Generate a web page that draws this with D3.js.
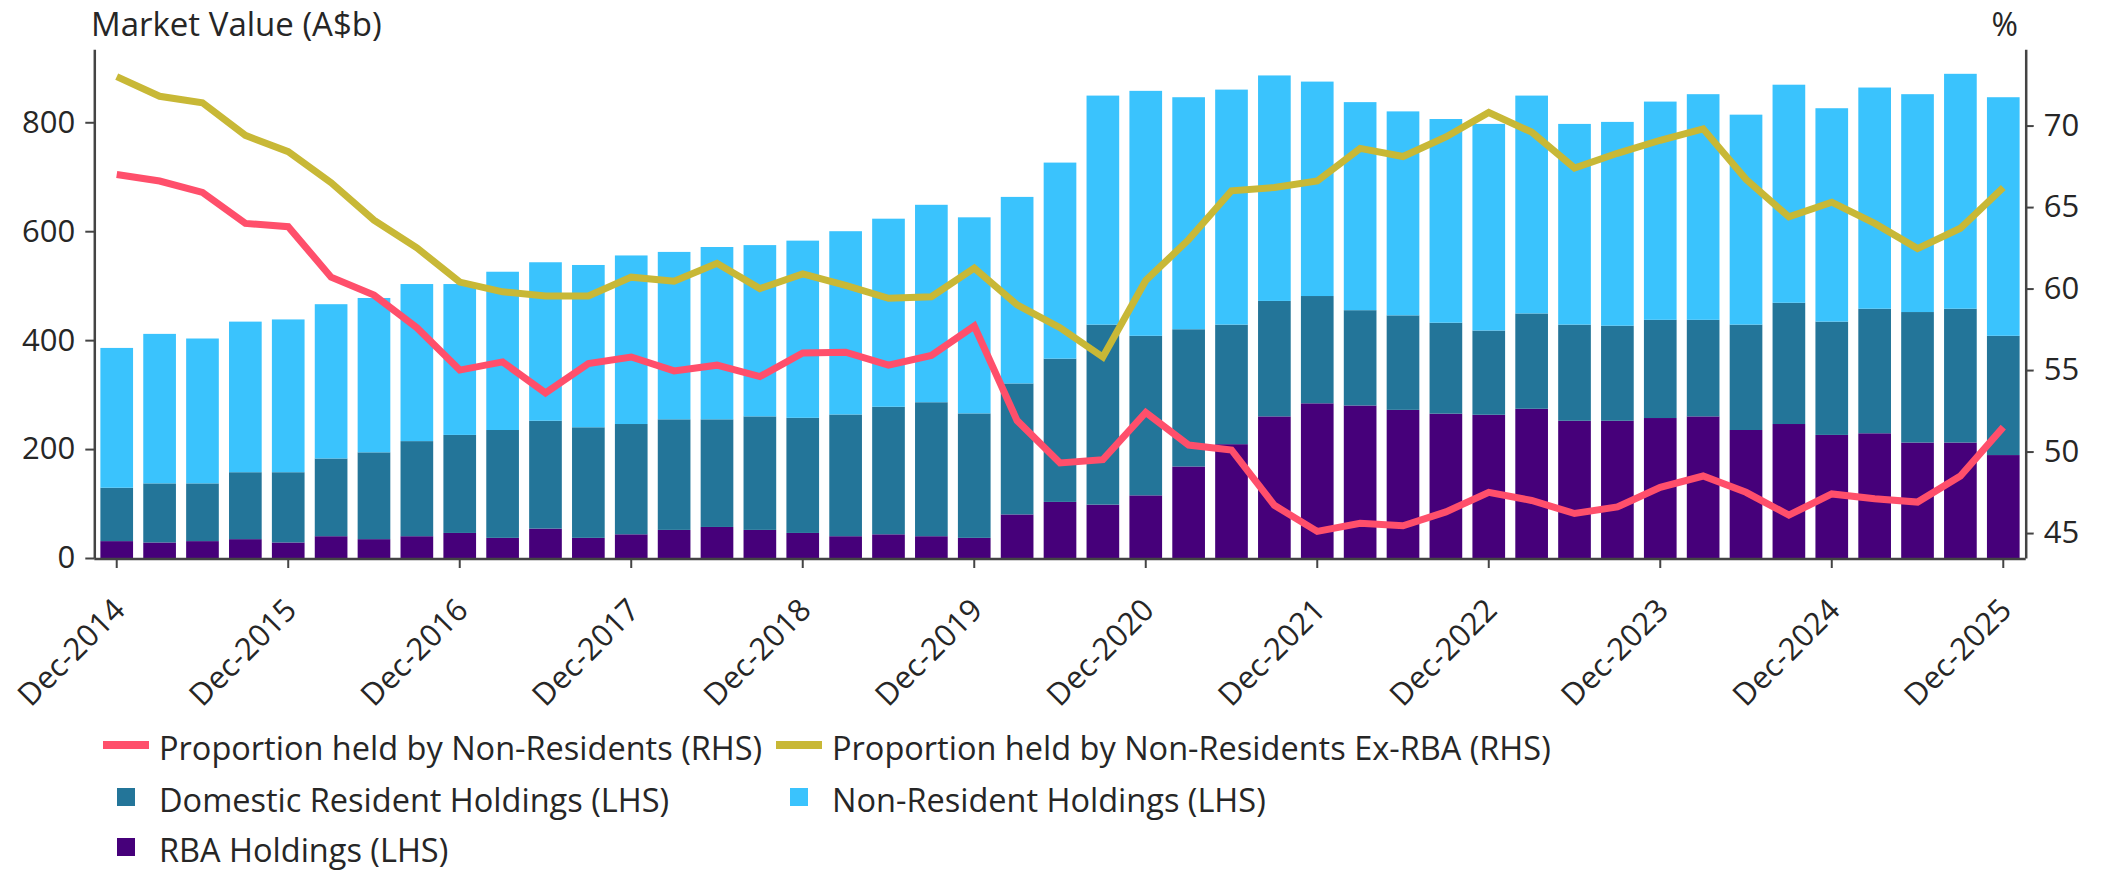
<!DOCTYPE html>
<html>
<head>
<meta charset="utf-8">
<script src="https://cdn.jsdelivr.net/npm/d3@7"></script>
<style>
    body { margin: 0; background: #ffffff; }
    text { font-family: "Open Sans", sans-serif; fill: #262626; }
</style>
</head>
<body>
<svg id="chart" width="2102" height="872"></svg>
<script>
let width = 2102, height = 872;

// quarterly categories
const quarters = [
    "Dec-2014", "Mar-2015", "Jun-2015", "Sep-2015",
    "Dec-2015", "Mar-2016", "Jun-2016", "Sep-2016",
    "Dec-2016", "Mar-2017", "Jun-2017", "Sep-2017",
    "Dec-2017", "Mar-2018", "Jun-2018", "Sep-2018",
    "Dec-2018", "Mar-2019", "Jun-2019", "Sep-2019",
    "Dec-2019", "Mar-2020", "Jun-2020", "Sep-2020",
    "Dec-2020", "Mar-2021", "Jun-2021", "Sep-2021",
    "Dec-2021", "Mar-2022", "Jun-2022", "Sep-2022",
    "Dec-2022", "Mar-2023", "Jun-2023", "Sep-2023",
    "Dec-2023", "Mar-2024", "Jun-2024", "Sep-2024",
    "Dec-2024", "Mar-2025", "Jun-2025", "Sep-2025",
    "Dec-2025"
]

// only the December quarters get a tick + label
const xTickLabels = ["Dec-2014", "Dec-2015", "Dec-2016", "Dec-2017", "Dec-2018", "Dec-2019",
    "Dec-2020", "Dec-2021", "Dec-2022", "Dec-2023", "Dec-2024", "Dec-2025"]

// A$b (LHS)
const rbaHoldings = [31, 28.5, 31, 34.6, 28.5, 40, 34.6, 40, 46, 37, 54, 37, 43.5, 51.6, 57, 51.6,
    46, 40, 43.5, 40, 37, 80, 103, 98, 115, 168, 209, 260, 284, 280, 272, 265, 263, 274,
    252, 252, 257, 260, 235, 246, 226, 229, 212, 212, 189]

const domesticHoldings = [98, 108.5, 106, 122.9, 129, 142.7, 159.4, 174.6, 180, 198, 198, 203, 202.5,
    203, 197.6, 208.4, 211.4, 223.5, 234.2, 246, 228.5, 240.5, 263, 330.5, 293, 252, 219.5, 212,
    197, 175, 173.5, 167, 154.6, 175, 176.5, 174.5, 180.3, 177.3, 193.5, 222.6, 208, 228.7, 239.6,
    245.7, 219]

const nonResidentHoldings = [256.7, 274.5, 266, 276.5, 280.5, 283.3, 283.4, 288.4, 277, 290.6, 291, 298,
    309.5, 307.4, 316.4, 314.5, 325.3, 336.5, 345.3, 362.5, 360, 342.5, 360, 420.5, 449.7, 426,
    431.5, 414, 393.7, 382, 374.5, 374, 379.4, 400, 368.5, 374.2, 400.7, 414.3, 385.5, 400.4,
    391.8, 406.1, 400, 431.3, 438]

// % (RHS)
const propNonRes = [67.0, 66.6, 65.9, 64.0, 63.8, 60.7, 59.6, 57.6, 55.0, 55.5, 53.6, 55.4, 55.8, 54.95,
    55.3, 54.6, 56.05, 56.1, 55.3, 55.9, 57.7, 51.9, 49.3, 49.5, 52.4, 50.4, 50.1, 46.7, 45.1,
    45.6, 45.45, 46.3, 47.5, 47.0, 46.2, 46.6, 47.8, 48.5, 47.5, 46.1, 47.4, 47.1, 46.9, 48.5, 51.5]

const propNonResExRba = [73.0, 71.8, 71.4, 69.4, 68.4, 66.5, 64.2, 62.5, 60.4, 59.8, 59.55, 59.55, 60.7,
    60.45, 61.55, 60.0, 60.9, 60.2, 59.4, 59.5, 61.25, 59.0, 57.6, 55.8, 60.5, 63.0, 66.0, 66.2,
    66.6, 68.6, 68.1, 69.3, 70.8, 69.6, 67.4, 68.3, 69.1, 69.8, 66.7, 64.4, 65.3, 64.0, 62.45,
    63.7, 66.2]

const leftTicks = [0, 200, 400, 600, 800]
const rightTicks = [45, 50, 55, 60, 65, 70]

const colors = {
    rba: "#46007a",
    domestic: "#237599",
    nonResident: "#3ac3fd",
    prop: "#ff4f6b",
    propEx: "#c8b836"
}

const plotLeft = 94.3, plotRight = 2025.7, plotTop = 49.3, plotBottom = 558

const svg = d3.select("#chart")

// build a table for d3.stack
let table = quarters.map(function(q, i) {
    return {
        quarter: q,
        rba: rbaHoldings[i],
        domestic: domesticHoldings[i],
        nonResident: nonResidentHoldings[i]
    }
})

const x = d3.scaleBand()
    .domain(quarters)
    .range([plotLeft, plotRight])
    .paddingInner(0.238)
    .paddingOuter(0.142)

const yLeft = d3.scaleLinear().domain([0, 934]).range([plotBottom, plotTop])
const yRight = d3.scaleLinear().domain([43.47, 74.68]).range([plotBottom, plotTop])

const stacked = d3.stack().keys(["rba", "domestic", "nonResident"])(table)

// bars
svg.append("g").attr("class", "bars")
    .selectAll("g")
    .data(stacked)
    .join("g")
    .attr("fill", function(d) { return colors[d.key] })
    .selectAll("rect")
    .data(function(d) { return d })
    .join("rect")
    .attr("x", function(d) { return x(d.data.quarter) })
    .attr("width", x.bandwidth())
    .attr("y", function(d) { return yLeft(d[1]) })
    .attr("height", function(d) { return yLeft(d[0]) - yLeft(d[1]) })

// lines on the right axis
function drawLine(values, color) {
    const line = d3.line()
        .x(function(d, i) { return x(quarters[i]) + x.bandwidth() / 2 })
        .y(function(d) { return yRight(d) })
    svg.append("path")
        .datum(values)
        .attr("d", line)
        .attr("fill", "none")
        .attr("stroke", color)
        .attr("stroke-width", 7)
}
drawLine(propNonRes, colors.prop)
drawLine(propNonResExRba, colors.propEx)

// axes
function styleAxis(g) {
    g.select(".domain").attr("stroke", "#444").attr("stroke-width", 2.5)
    g.selectAll(".tick line").attr("stroke", "#444").attr("stroke-width", 2)
    g.selectAll(".tick text").attr("fill", "#262626").style("font-size", "31px")
        .style("font-family", "'Open Sans', sans-serif")
}

svg.append("g")
    .attr("transform", "translate(" + plotLeft + ",0)")
    .call(d3.axisLeft(yLeft).tickValues(leftTicks).tickSize(9).tickSizeOuter(0).tickPadding(10))
    .call(styleAxis)

svg.append("g")
    .attr("transform", "translate(" + plotRight + ",0)")
    .call(d3.axisRight(yRight).tickValues(rightTicks).tickSize(8).tickSizeOuter(0).tickPadding(10))
    .call(styleAxis)

const xAxis = svg.append("g")
    .attr("transform", "translate(0," + (plotBottom + 1) + ")")
    .call(d3.axisBottom(x).tickValues(xTickLabels).tickSize(9).tickSizeOuter(0))
    .call(styleAxis)

xAxis.select(".domain").attr("d", "M" + plotLeft + ",0H" + plotRight)

xAxis.selectAll(".tick text")
    .attr("y", 0)
    .attr("dy", 0)
    .attr("text-anchor", "end")
    .attr("transform", "translate(10,53) rotate(-45)")

// axis titles
svg.append("text")
    .attr("x", 91)
    .attr("y", 36)
    .style("font-size", "33px")
    .text("Market Value (A$b)")

svg.append("text")
    .attr("x", 2018)
    .attr("y", 36)
    .attr("text-anchor", "end")
    .style("font-size", "32px")
    .text("%")

// legend
const legendItems = [
    {label: "Proportion held by Non-Residents (RHS)", color: colors.prop, type: "line", col: 0, row: 0},
    {label: "Proportion held by Non-Residents Ex-RBA (RHS)", color: colors.propEx, type: "line", col: 1, row: 0},
    {label: "Domestic Resident Holdings (LHS)", color: colors.domestic, type: "box", col: 0, row: 1},
    {label: "Non-Resident Holdings (LHS)", color: colors.nonResident, type: "box", col: 1, row: 1},
    {label: "RBA Holdings (LHS)", color: colors.rba, type: "box", col: 0, row: 2}
]
const legendCols = [103, 776]
const legendRowY = [760, 812, 862]

const legend = svg.append("g").attr("class", "legend")
legendItems.forEach(function(d) {
    let lx = legendCols[d.col], ly = legendRowY[d.row]
    if (d.type === "line") {
        legend.append("line")
            .attr("x1", lx).attr("x2", lx + 46)
            .attr("y1", ly - 15).attr("y2", ly - 15)
            .attr("stroke", d.color).attr("stroke-width", 8)
    } else {
        legend.append("rect")
            .attr("x", lx + 14).attr("y", ly - 24)
            .attr("width", 18).attr("height", 18)
            .attr("fill", d.color)
    }
    legend.append("text")
        .attr("x", lx + 56)
        .attr("y", ly)
        .style("font-size", "32.5px")
        .text(d.label)
})
</script>
</body>
</html>
